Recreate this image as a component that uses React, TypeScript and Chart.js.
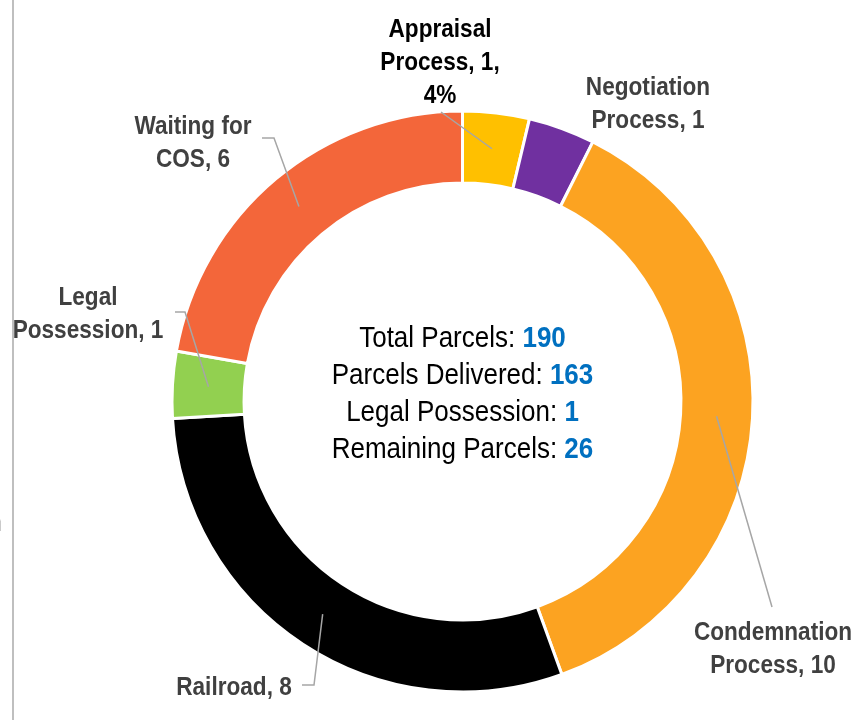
import React, { useEffect, useRef } from "react";
import { Chart, registerables } from "chart.js";

Chart.register(...registerables);

// ---- data ----
const categories = [
  "Appraisal Process",
  "Negotiation Process",
  "Condemnation Process",
  "Railroad",
  "Legal Possession",
  "Waiting for COS",
];
const parcelCounts = [1, 1, 10, 8, 1, 6];
const sliceColors = ["#FFC000", "#7030A0", "#FCA321", "#000000", "#92D050", "#F3663A"];
const showPercent = [true, false, false, false, false, false];

const summaryLabels = ["Total Parcels:", "Parcels Delivered:", "Legal Possession:", "Remaining Parcels:"];
const summaryValues = [190, 163, 1, 26];

// ---- label layout (positions only) ----
type LabelLayout = {
  cx: number;
  base: number;
  words: number[];
  color: string;
  leader: number[][];
};
const labelLayout: LabelLayout[] = [
  { cx: 440, base: 37, words: [1, 2, 1], color: "#000000", leader: [[441, 112]] },
  { cx: 648, base: 95, words: [1, 2], color: "#404040", leader: [] },
  { cx: 773, base: 640, words: [1, 2], color: "#404040", leader: [[772, 607]] },
  { cx: 234, base: 695, words: [2], color: "#404040", leader: [[314, 685], [302, 685]] },
  { cx: 88, base: 305, words: [1, 2], color: "#404040", leader: [[185, 312], [175, 312]] },
  { cx: 193, base: 134, words: [2, 2], color: "#404040", leader: [[274, 138], [262, 138]] },
];

const FONT = "'Liberation Sans', Arial, sans-serif";
const SY = 1.14;
const LABEL_SIZE = 22.6;
const LABEL_LH = 33;
const CENTER_SIZE = 26;
const CENTER_LH = 37;

function drawScaled(ctx: CanvasRenderingContext2D, text: string, x: number, y: number) {
  ctx.save();
  ctx.translate(x, y);
  ctx.scale(1, SY);
  ctx.fillText(text, 0, 0);
  ctx.restore();
}

const labelPlugin = {
  id: "sliceLabels",
  afterDraw(chart: any) {
    const ctx: CanvasRenderingContext2D = chart.ctx;
    const meta = chart.getDatasetMeta(0);
    const total = parcelCounts.reduce((a, b) => a + b, 0);
    let cx0 = 0;
    let cy0 = 0;
    meta.data.forEach((arc: any, i: number) => {
      const p = arc.getProps(["x", "y", "startAngle", "endAngle", "innerRadius", "outerRadius"], true);
      cx0 = p.x;
      cy0 = p.y;
      const mid = (p.startAngle + p.endAngle) / 2;
      const r = (p.innerRadius + p.outerRadius) / 2;
      const ax = p.x + r * Math.cos(mid);
      const ay = p.y + r * Math.sin(mid);
      const L = labelLayout[i];
      if (L.leader.length) {
        ctx.save();
        ctx.strokeStyle = "#A6A6A6";
        ctx.lineWidth = 1.5;
        ctx.beginPath();
        ctx.moveTo(ax, ay);
        L.leader.forEach((pt) => ctx.lineTo(pt[0], pt[1]));
        ctx.stroke();
        ctx.restore();
      }
      let text = `${categories[i]}, ${parcelCounts[i]}`;
      if (showPercent[i]) text += `, ${Math.round((parcelCounts[i] / total) * 100)}%`;
      const words = text.split(" ");
      const lines: string[] = [];
      let k = 0;
      L.words.forEach((n) => {
        lines.push(words.slice(k, k + n).join(" "));
        k += n;
      });
      ctx.save();
      ctx.font = `bold ${LABEL_SIZE}px ${FONT}`;
      ctx.fillStyle = L.color;
      ctx.textAlign = "center";
      ctx.textBaseline = "alphabetic";
      lines.forEach((ln, j) => drawScaled(ctx, ln, L.cx, L.base + j * LABEL_LH));
      ctx.restore();
    });

    // center summary
    ctx.save();
    ctx.textBaseline = "alphabetic";
    ctx.textAlign = "left";
    const regFont = `${CENTER_SIZE}px ${FONT}`;
    const boldFont = `bold ${CENTER_SIZE}px ${FONT}`;
    summaryLabels.forEach((lab, j) => {
      const a = lab + " ";
      const b = String(summaryValues[j]);
      ctx.font = regFont;
      const wa = ctx.measureText(a).width;
      ctx.font = boldFont;
      const wb = ctx.measureText(b).width;
      const x0 = cx0 - (wa + wb) / 2;
      const y = cy0 - 54.5 + j * CENTER_LH;
      ctx.font = regFont;
      ctx.fillStyle = "#000000";
      drawScaled(ctx, a, x0, y);
      ctx.font = boldFont;
      ctx.fillStyle = "#0070C0";
      drawScaled(ctx, b, x0 + wa, y);
    });
    ctx.restore();

    // clipped neighbouring glyph at the far left edge
    ctx.save();
    ctx.font = `27px ${FONT}`;
    ctx.fillStyle = "#404040";
    ctx.fillText("n", -13, 531);
    ctx.restore();
  },
};

export default function App() {
  const canvasRef = useRef<HTMLCanvasElement | null>(null);

  useEffect(() => {
    const canvas = canvasRef.current;
    if (!canvas) return;
    const chart = new Chart(canvas, {
      type: "doughnut",
      data: {
        labels: categories,
        datasets: [
          {
            data: parcelCounts,
            backgroundColor: sliceColors,
            borderColor: "#FFFFFF",
            borderWidth: 3,
          },
        ],
      },
      options: {
        responsive: false,
        animation: false,
        events: [],
        radius: 290.5,
        cutout: "75.2%",
        layout: { padding: { left: 58, right: 0, top: 83, bottom: 0 } },
        plugins: {
          legend: { display: false },
          tooltip: { enabled: false },
          title: { display: false },
        },
      } as any,
      plugins: [labelPlugin as any],
    });
    return () => chart.destroy();
  }, []);

  return (
    <div
      style={{
        position: "absolute",
        left: 0,
        top: 0,
        width: 867,
        height: 720,
        background: "#FFFFFF",
        overflow: "hidden",
      }}
    >
      <canvas ref={canvasRef} width={867} height={720} style={{ display: "block", width: 867, height: 720 }} />
      <div
        style={{
          position: "absolute",
          left: 12,
          top: 0,
          width: 2,
          height: 720,
          background: "#BFBFBF",
        }}
      />
    </div>
  );
}
